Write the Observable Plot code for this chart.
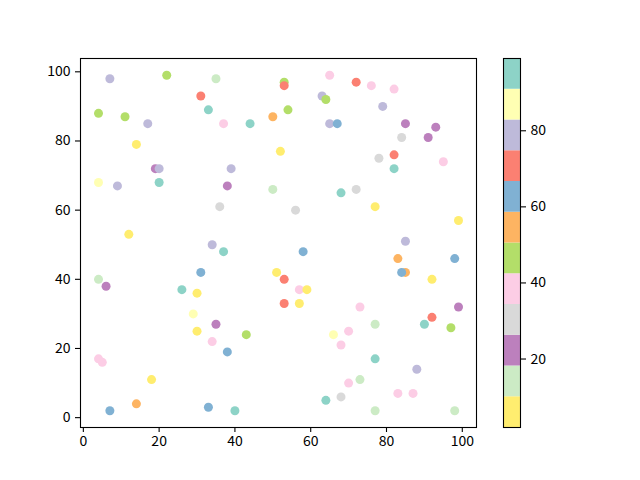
<!DOCTYPE html>
<html><head><meta charset="utf-8">
<script src="https://cdn.jsdelivr.net/npm/d3@7"></script>
<script src="https://cdn.jsdelivr.net/npm/@observablehq/plot@0.6"></script>
<style>
body{margin:0;background:#fff}
#wrap{position:relative;width:640px;height:480px}
#wrap svg{position:absolute;left:0;top:0}
</style>
</head><body><div id="wrap"></div>
<script>
const xs = [7,22,35,31,33,4,11,17,37,44,50,14,19,20,39,4,9,20,38,50,36,12,34,
  53,53,65,72,76,82,63,64,79,54,65,67,85,93,84,91,52,78,82,95,82,68,72,56,77,99,85,
  37,31,51,4,6,26,30,29,35,30,43,34,38,4,5,18,14,7,33,40,
  58,83,98,85,84,92,53,57,59,53,57,73,99,77,90,92,97,66,70,68,77,88,70,73,64,68,83,87,77,98];
const ys = [98,99,98,93,89,88,87,85,85,85,87,79,72,72,72,68,67,68,67,66,61,53,50,
  97,96,99,97,96,95,93,92,90,89,85,85,85,84,81,81,77,75,76,74,72,65,66,60,61,57,51,
  48,42,42,40,38,37,36,30,27,25,24,22,19,17,16,11,4,2,3,2,
  48,46,46,42,42,40,40,37,37,33,33,32,32,27,27,29,26,24,25,21,17,14,10,11,5,6,7,7,2,2];
const cs = [79,46,14,71,95,46,46,79,38,95,54,6,22,79,79,87,79,95,22,14,30,6,79,
  46,71,38,71,38,38,79,46,79,46,79,62,22,22,30,22,6,30,71,38,95,95,30,30,6,6,79,
  95,62,6,14,22,95,6,87,22,6,46,38,62,38,38,6,54,62,62,95,
  62,54,62,54,62,6,71,38,6,71,6,38,22,14,95,71,46,87,38,38,95,79,38,14,95,30,38,38,14,14];

const colors = ["#ffed6f","#ccebc5","#bc80bd","#d9d9d9","#fccde5","#b3de69","#fdb462","#80b1d3","#fb8072","#bebada","#ffffb3","#8dd3c7"];
const cMin = 2, cMax = 99;
const xTicks = [0,20,40,60,80,100];
const yTicks = [0,20,40,60,80,100];
const cbTicks = [20,40,60,80];

const edges = d3.range(colors.length + 1).map(k => cMin + k * (cMax - cMin) / colors.length);
const thresholds = edges.slice(1, -1);
const points = xs.map((x, i) => ({x, y: ys[i], c: cs[i]}));
const bins = colors.map((col, k) => ({y1: edges[k], y2: edges[k + 1], v: (edges[k] + edges[k + 1]) / 2}));
const colorScale = {type: "threshold", domain: thresholds, range: colors};
const style = {fontFamily: "'Noto Sans CJK SC', 'DejaVu Sans', sans-serif", fontSize: "14px", color: "black", background: "transparent", overflow: "visible"};

const main = Plot.plot({
  width: 640, height: 480,
  marginLeft: 80, marginRight: 164, marginTop: 58, marginBottom: 53,
  style,
  x: {domain: [-0.75, 103.75]},
  y: {domain: [-2.85, 103.85]},
  color: colorScale,
  marks: [
    Plot.dot(points, {x: "x", y: "y", fill: "c", r: 4.5}),
    Plot.frame({stroke: "black", strokeWidth: 1.1}),
    Plot.axisX({ticks: xTicks, tickSize: 5, tickPadding: 4, label: null, strokeWidth: 1.1}),
    Plot.axisY({ticks: yTicks, tickSize: 5, tickPadding: 5, label: null, strokeWidth: 1.1})
  ]
});

const cbar = Plot.plot({
  width: 640, height: 480,
  marginLeft: 503, marginRight: 120, marginTop: 58, marginBottom: 53,
  style,
  x: {domain: [0, 1], axis: null},
  y: {domain: [cMin, cMax]},
  color: colorScale,
  marks: [
    Plot.rect(bins, {x1: 0, x2: 1, y1: "y1", y2: "y2", fill: "v", inset: 0}),
    Plot.frame({stroke: "black", strokeWidth: 1.1}),
    Plot.axisY({anchor: "right", ticks: cbTicks, tickSize: 5, tickPadding: 5, label: null, strokeWidth: 1.1})
  ]
});

const wrap = document.getElementById("wrap");
wrap.appendChild(main);
wrap.appendChild(cbar);
</script>
</body></html>
